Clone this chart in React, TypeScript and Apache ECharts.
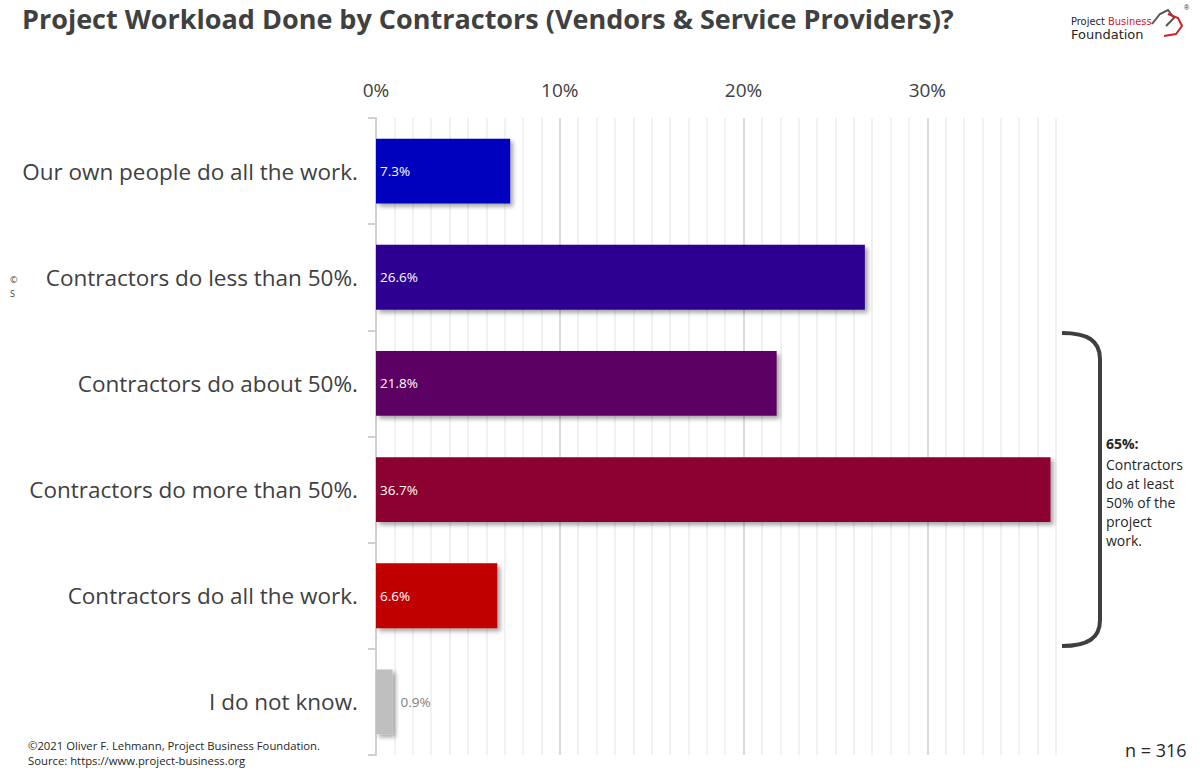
import React, { useEffect, useRef } from "react";
import * as echarts from "echarts";

const categories = [
  "Our own people do all the work.",
  "Contractors do less than 50%.",
  "Contractors do about 50%.",
  "Contractors do more than 50%.",
  "Contractors do all the work.",
  "I do not know.",
];
const values = [7.3, 26.6, 21.8, 36.7, 6.6, 0.9];
const barColors = ["#0000BF", "#2E0092", "#5D0064", "#8C0033", "#C00000", "#BFBFBF"];
const tickLabels = ["0%", "10%", "20%", "30%"];
const noteLines = ["Contractors", "do at least", "50% of the", "project", "work."];

echarts.graphic.registerShape(
  "bracket",
  echarts.graphic.extendPath(
    "M 0 0 C 26 0 38 8 38 26 L 38 287 C 38 305 26 313 0 313",
    {}
  )
);

export default function App() {
  const ref = useRef<HTMLDivElement>(null);
  useEffect(() => {
    if (!ref.current) return;
    const chart = echarts.init(ref.current, null, { renderer: "svg" });
    const font = "'Open Sans', 'DejaVu Sans', sans-serif";
    const splitColors = ["#d0d0d0"].concat(Array(9).fill("#ececec"));
    chart.setOption({
      animation: false,
      backgroundColor: "#ffffff",
      textStyle: { fontFamily: font },
      grid: { left: 376, right: 144, top: 118, bottom: 20, containLabel: false },
      xAxis: {
        type: "value",
        position: "top",
        min: 0,
        max: 37,
        interval: 1,
        axisLine: { show: false },
        axisTick: { show: false },
        axisLabel: {
          margin: 19,
          color: "#404040",
          fontSize: 19,
          fontFamily: font,
          formatter: (v: number) => {
            const i = Math.round(v) / 10;
            return Math.round(v) % 10 === 0 ? tickLabels[i] ?? "" : "";
          },
        },
        splitLine: { show: true, lineStyle: { color: splitColors, width: 1.5 } },
      },
      yAxis: {
        type: "category",
        inverse: true,
        data: categories,
        axisLine: { show: true, lineStyle: { color: "#d0d0d0", width: 2 } },
        axisTick: { show: true, length: 8, lineStyle: { color: "#d0d0d0", width: 2 } },
        axisLabel: { margin: 18, color: "#404040", fontSize: 22.5, fontFamily: font },
      },
      series: [
        {
          type: "bar",
          barCategoryGap: "39%",
          data: values.map((v, i) => ({
            value: v,
            itemStyle: {
              color: barColors[i],
              shadowColor: "rgba(0,0,0,0.35)",
              shadowBlur: 4,
              shadowOffsetX: 3,
              shadowOffsetY: 3,
            },
            label:
              i === values.length - 1
                ? { position: "right", color: "#7f7f7f", distance: 8 }
                : { position: "insideLeft", color: "#ffffff", distance: 4 },
          })),
          label: {
            show: true,
            fontSize: 13.5,
            fontFamily: font,
            formatter: (p: any) => p.value.toFixed(1) + "%",
          },
        },
      ],
      graphic: [
        {
          type: "text",
          left: 22,
          top: 5,
          style: {
            text: "Project Workload Done by Contractors (Vendors & Service Providers)?",
            fontSize: 27,
            fontWeight: "bold",
            fill: "#404040",
            fontFamily: font,
          },
        },
        {
          type: "bracket",
          x: 1062,
          y: 333,
          style: { fill: "none", stroke: "#3f3f3f", lineWidth: 4 },
        },
        {
          type: "text",
          x: 1106,
          y: 436,
          style: { text: "65%:", fontSize: 14, fontWeight: "bold", fill: "#262626", fontFamily: font },
        },
        {
          type: "text",
          x: 1106,
          y: 455,
          style: {
            text: noteLines.join("\n"),
            fontSize: 14,
            lineHeight: 19,
            fill: "#262626",
            fontFamily: font,
          },
        },
        {
          type: "text",
          x: 28,
          y: 738,
          style: {
            text: "©2021 Oliver F. Lehmann, Project Business Foundation.\nSource: https://www.project-business.org",
            fontSize: 11.3,
            lineHeight: 15,
            fill: "#262626",
            fontFamily: font,
          },
        },
        {
          type: "text",
          x: 1125,
          y: 741,
          style: { text: "n = 316", fontSize: 18, fill: "#262626", fontFamily: font },
        },
        {
          type: "text",
          x: 10,
          y: 272,
          style: { text: "©\nS", fontSize: 9, lineHeight: 14, fill: "#404040", fontFamily: font },
        },
        // logo
        {
          type: "text",
          x: 1071,
          y: 16,
          style: {
            text: "{a|Project }{b|Business}",
            rich: {
              a: { fontSize: 11, fill: "#262626", fontFamily: "'Liberation Sans Narrow', 'DejaVu Sans Condensed', sans-serif" },
              b: { fontSize: 11, fill: "#d0202a", fontFamily: "'Liberation Sans Narrow', 'DejaVu Sans Condensed', sans-serif" },
            },
          },
        },
        {
          type: "text",
          x: 1071,
          y: 28,
          style: { text: "Foundation", fontSize: 13, fill: "#262626", fontFamily: "'DejaVu Sans', sans-serif" },
        },
        {
          type: "polyline",
          shape: { points: [[1152, 24], [1160, 14], [1168, 10], [1174, 18], [1166, 26]] },
          style: { stroke: "#555555", lineWidth: 2, fill: "none" },
        },
        {
          type: "polyline",
          shape: { points: [[1168, 14], [1178, 18], [1182, 26], [1176, 34], [1164, 36]] },
          style: { stroke: "#d0202a", lineWidth: 2, fill: "none" },
        },
        {
          type: "text",
          x: 1184,
          y: 4,
          style: { text: "®", fontSize: 7, fill: "#262626" },
        },
      ],
    });
    return () => chart.dispose();
  }, []);
  return (
    <div
      ref={ref}
      style={{ position: "absolute", left: 0, top: 0, width: 1200, height: 775 }}
    />
  );
}
